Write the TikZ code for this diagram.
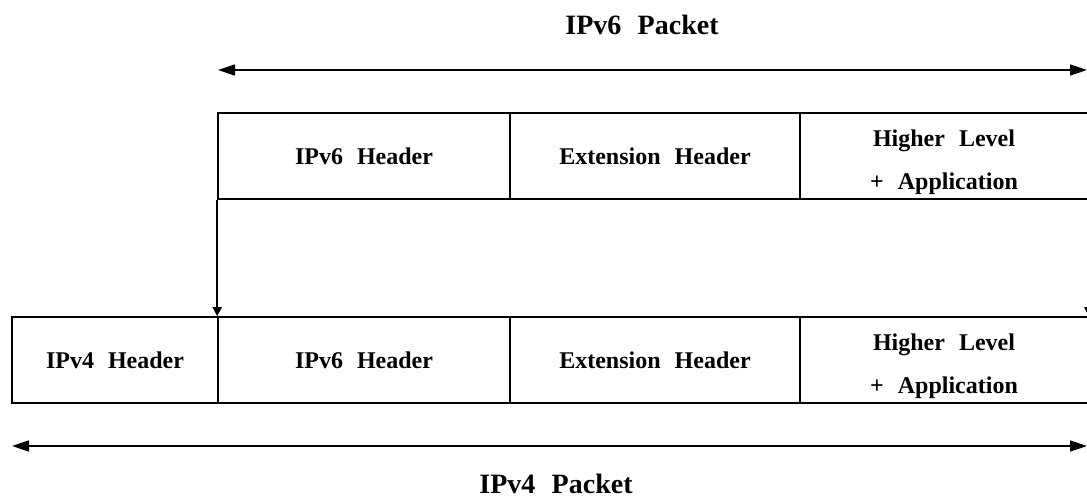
\documentclass[tikz,border=0pt]{standalone}
\usepackage{fontspec}
\setmainfont{Liberation Serif}
\usetikzlibrary{arrows.meta}

% extra room above the first line pushes two-line labels a little lower
\newcommand{\toproom}{\rule{0pt}{30pt}}

\begin{document}
\begin{tikzpicture}[x=1pt,y=-1pt,
    line width=1.6pt,
    cell/.style={draw, rectangle, minimum height=86pt, inner sep=0pt,
                 font=\bfseries\fontsize{24}{43}\selectfont, align=center},
    span/.style={{Triangle[length=17pt,width=11pt]}-{Triangle[length=17pt,width=11pt]}},
    drop/.style={-{Triangle[length=9pt,width=9pt]}},
    caption/.style={font=\bfseries\fontsize{28}{32}\selectfont, inner sep=0pt}]
  \useasboundingbox (0,0) rectangle (1087,500);

  % IPv6 packet span
  \coordinate (p6l) at (218,70);
  \coordinate (p6r) at (1087,70);
  \draw[span] (p6l) -- (p6r);
  \node[caption] (t6) at (642,25) {IPv6\,\, Packet};

  % IPv6 packet cells
  \node[cell, minimum width=292pt] (h6a) at (364,156) {IPv6\,\, Header};
  \node[cell, minimum width=290pt] (ext6a) at (655,156) {Extension\,\, Header};
  \node[cell, minimum width=288pt] (hla) at (944,156) {\toproom Higher\,\, Level\\+\,\, Application};

  % IPv4 packet cells
  \node[cell, minimum width=206pt] (h4) at (115,360) {IPv4\,\, Header};
  \node[cell, minimum width=292pt] (h6b) at (364,360) {IPv6\,\, Header};
  \node[cell, minimum width=290pt] (ext6b) at (655,360) {Extension\,\, Header};
  \node[cell, minimum width=288pt] (hlb) at (944,360) {\toproom Higher\,\, Level\\+\,\, Application};

  % encapsulation
  \draw[drop] (h6a.south west) -- (h6b.north west);
  \draw[drop] (hla.south east) -- (hlb.north east);

  % IPv4 packet span
  \coordinate (p4l) at (12,446);
  \coordinate (p4r) at (1087,446);
  \draw[span] (p4l) -- (p4r);
  \node[caption] (t4) at (556,484) {IPv4\,\, Packet};
\end{tikzpicture}
\end{document}
